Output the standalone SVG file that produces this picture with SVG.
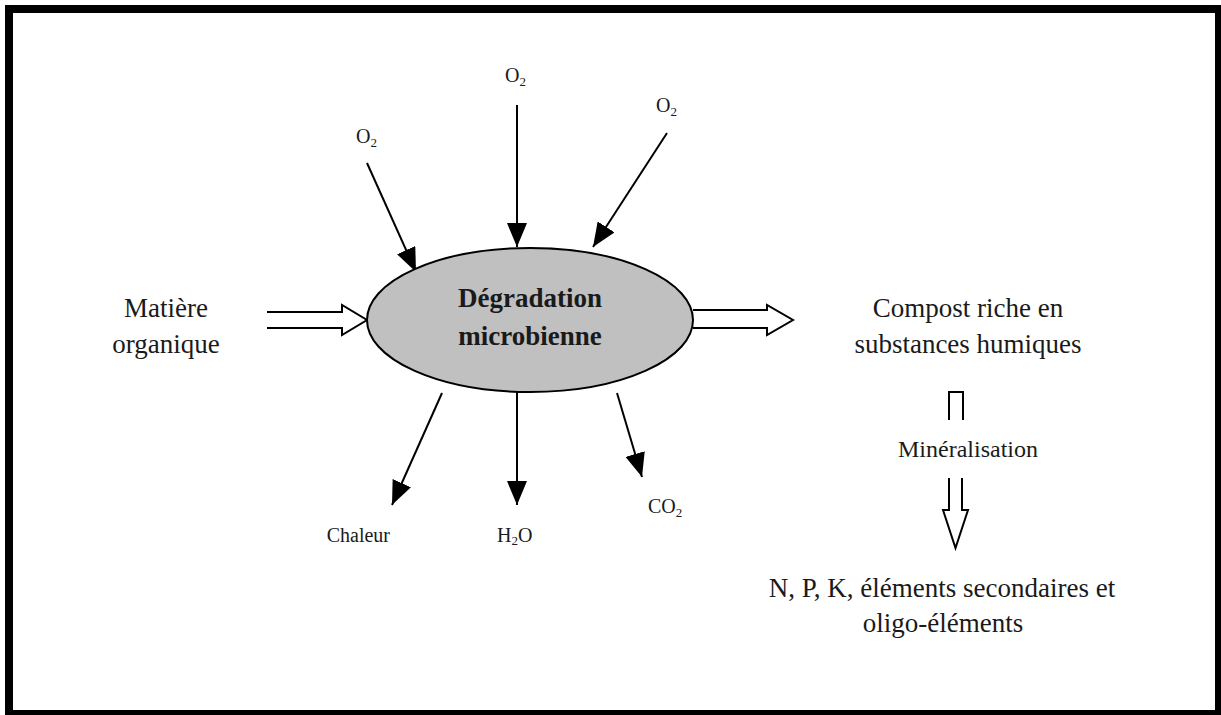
<svg xmlns="http://www.w3.org/2000/svg" width="1221" height="715" viewBox="0 0 1221 715">
<style>
text{font-family:"Liberation Serif","Times New Roman",serif;fill:#1a1a1a}
.big{font-size:27px}
.sm{font-size:20px}
.line{stroke:#000;stroke-width:2;fill:none;marker-end:url(#ah)}
.hollow{stroke:#000;stroke-width:2;fill:#fff;stroke-linejoin:miter}
</style>
<defs>
<marker id="ah" markerUnits="userSpaceOnUse" markerWidth="24" markerHeight="20" refX="24" refY="10" orient="auto" viewBox="0 0 24 20">
<path d="M0,0 L24,10 L0,20 z" fill="#000"/>
</marker>
</defs>
<rect x="0" y="0" width="1221" height="715" fill="#fff"/>
<rect x="9" y="9" width="1210" height="705" fill="#fff" stroke="#000" stroke-width="8"/>

<g id="connectors">
<line class="line" x1="517" y1="105" x2="517" y2="247"/>
<line class="line" x1="367" y1="163" x2="416" y2="272"/>
<line class="line" x1="667" y1="133" x2="593" y2="247"/>
<line class="line" x1="442" y1="393" x2="392" y2="505"/>
<line class="line" x1="517" y1="392" x2="517" y2="505"/>
<line class="line" x1="617" y1="393" x2="642" y2="477"/>
<path class="hollow" d="M267,312 H342 V305 L367,320 L342,335 V328 H267"/>
<path class="hollow" d="M693,310 H767 V305 L793,320 L767,335 V328 H693"/>
<path class="hollow" d="M949,420 V392 H963 V420" fill="none"/>
<path class="hollow" d="M949,478 V510 H943 L955.5,548 L968,510 H962 V478"/>
</g>

<g id="degradation">
<ellipse cx="530" cy="320" rx="163" ry="72" fill="#c0c0c0" stroke="#000" stroke-width="2"/>
<text class="big" x="530" y="307" text-anchor="middle" font-weight="bold">Dégradation</text>
<text class="big" x="530" y="345" text-anchor="middle" font-weight="bold">microbienne</text>
</g>

<g id="matiere">
<text class="big" x="166" y="317" text-anchor="middle">Matière</text>
<text class="big" x="166" y="353" text-anchor="middle">organique</text>
</g>

<g id="compost">
<text class="big" x="968" y="317" text-anchor="middle">Compost riche en</text>
<text class="big" x="968" y="353" text-anchor="middle">substances humiques</text>
</g>

<g id="mineralisation">
<text x="968" y="457" text-anchor="middle" font-size="24">Minéralisation</text>
</g>

<g id="npk">
<text class="big" x="942" y="597" text-anchor="middle">N, P, K, éléments secondaires et</text>
<text class="big" x="943" y="632" text-anchor="middle">oligo-éléments</text>
</g>

<g id="o2-top"><text class="sm" x="505" y="82">O<tspan font-size="13" dy="4">2</tspan></text></g>
<g id="o2-left"><text class="sm" x="356" y="143">O<tspan font-size="13" dy="4">2</tspan></text></g>
<g id="o2-right"><text class="sm" x="656" y="112">O<tspan font-size="13" dy="4">2</tspan></text></g>
<g id="chaleur"><text class="sm" x="390" y="542" text-anchor="end">Chaleur</text></g>
<g id="h2o"><text class="sm" x="497" y="542" font-size="21">H<tspan font-size="13" dy="3">2</tspan><tspan dy="-3">O</tspan></text></g>
<g id="co2"><text class="sm" x="648" y="513">CO<tspan font-size="13" dy="4">2</tspan></text></g>
</svg>
